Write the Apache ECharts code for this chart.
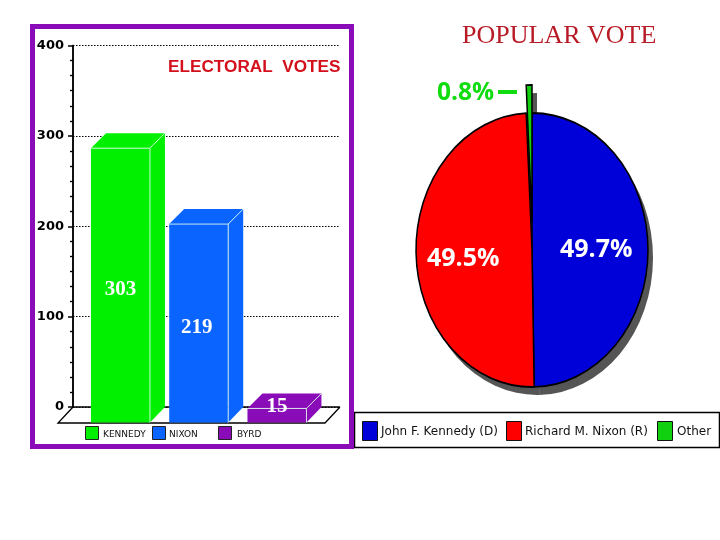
<!DOCTYPE html>
<html><head><meta charset="utf-8">
<style>html,body{margin:0;padding:0;background:#fff}#c{width:720px;height:540px}</style>
<script src="https://cdn.jsdelivr.net/npm/echarts@6/dist/echarts.min.js"></script>
</head><body><div id="c"></div>
<script>
const candidates = ['KENNEDY', 'NIXON', 'BYRD'];
const electoralVotes = [303, 219, 15];
const barColors = ['#00f000', '#0a64ff', '#8a0cb8'];
const yTicks = [0, 100, 200, 300, 400];
const popularNames = ['John F. Kennedy (D)', 'Richard M. Nixon (R)', 'Other'];
const popularVotes = [49.7, 49.5, 0.8];
const pieColors = ['#0000d8', '#ff0000', '#10d010'];

const chart = echarts.init(document.getElementById('c'), null, {renderer: 'canvas'});
const DX = 15, DY = 16, FRONT = 59;
const PIE = {cx: 532, cy: 250, rx: 116, ry: 137};
const total = popularVotes.reduce((a, b) => a + b, 0);
function sliceAngles(i) {
  let s = 0;
  for (let k = 0; k < i; k++) s += popularVotes[k];
  return [-Math.PI / 2 + s / total * 2 * Math.PI, -Math.PI / 2 + (s + popularVotes[i]) / total * 2 * Math.PI];
}
function renderSlice(isShadow) {
  return function (params) {
    const i = params.dataIndex, a = sliceAngles(i);
    const lift = i === 2 ? 28 : 0;
    const off = isShadow ? [5, 8] : [0, 0];
    return {
      type: 'sector',
      x: PIE.cx + off[0], y: PIE.cy - lift + off[1],
      scaleY: PIE.ry / PIE.rx,
      shape: {cx: 0, cy: 0, r0: 0, r: PIE.rx, startAngle: a[0], endAngle: a[1], clockwise: true},
      style: isShadow ? {fill: '#555555'} : {fill: pieColors[i], stroke: '#000', lineWidth: 1.5}
    };
  };
}
function renderBar(params, api) {
  const i = api.value(0), v = api.value(1);
  const p = api.coord([i, v]), base = api.coord([i, 0]);
  const fl = p[0] - FRONT / 2, fr = p[0] + FRONT / 2;
  const top = p[1] + DY - 1, bot = base[1] + DY - .5;
  const c = barColors[params.dataIndex], edge = 'rgba(225,255,235,.85)';
  const ly = bot - top < 40 ? p[1] + 13 : (top + bot) / 2 + 4;
  return {type: 'group', children: [
    {type: 'polygon', shape: {points: [[fl, top], [fl + DX, p[1]], [fr + DX, p[1]], [fr, top]]}, style: {fill: c}},
    {type: 'polygon', shape: {points: [[fr, top], [fr + DX, p[1]], [fr + DX, base[1]], [fr, bot]]}, style: {fill: c}},
    {type: 'rect', shape: {x: fl, y: top, width: FRONT, height: bot - top}, style: {fill: c}},
    {type: 'polyline', shape: {points: [[fl, top], [fr, top], [fr, bot]]}, style: {fill: 'none', stroke: edge, lineWidth: 1}},
    {type: 'line', shape: {x1: fr, y1: top, x2: fr + DX, y2: p[1]}, style: {stroke: edge, lineWidth: 1}},
    {type: 'text', x: p[0] - (params.dataIndex === 1 ? 2 : 0), y: ly, z2: 5, style: {text: String(v), fill: '#fff', font: 'bold 21px "Liberation Serif"', align: 'center', verticalAlign: 'middle'}}
  ]};
}
function renderFloor(params, api) {
  const a = api.coord([api.value(0), 0]), b = api.coord([api.value(1), 0]);
  return {type: 'polyline', shape: {points: [[b[0], b[1]], [a[0], a[1]], [a[0] - DX, a[1] + DY], [b[0] - DX, b[1] + DY], [b[0], b[1]]]}, style: {fill: 'none', stroke: '#000', lineWidth: 1.3}};
}

const graphics = [
  {type: 'rect', shape: {x: 32.5, y: 26.5, width: 319, height: 420}, style: {fill: 'none', stroke: '#8a0cb8', lineWidth: 5}, z: 10},
  {type: 'text', x: 168, y: 67, style: {text: 'ELECTORAL  VOTES', fill: '#d4101c', font: 'bold 17.2px "Liberation Sans"', verticalAlign: 'middle'}, z: 10},
  {type: 'text', x: 462, y: 36, style: {text: 'POPULAR VOTE', fill: '#b81a26', font: '26px "Liberation Serif"', verticalAlign: 'middle'}, z: 10},
  {type: 'text', x: 437, y: 93, style: {text: '0.8%', fill: '#10dc10', font: 'bold 24.5px "Open Sans"', verticalAlign: 'middle'}, z: 10},
  {type: 'rect', shape: {x: 498, y: 90, width: 19, height: 4}, style: {fill: '#10dc10'}, z: 10},
  {type: 'text', x: 427, y: 259, style: {text: popularVotes[1].toFixed(1) + '%', fill: '#fff', font: 'bold 25px "Open Sans"', verticalAlign: 'middle'}, z: 10},
  {type: 'text', x: 560, y: 250, style: {text: popularVotes[0].toFixed(1) + '%', fill: '#fff', font: 'bold 25px "Open Sans"', verticalAlign: 'middle'}, z: 10},
  {type: 'rect', shape: {x: 354.5, y: 412.5, width: 365, height: 35}, style: {fill: '#fff', stroke: '#000', lineWidth: 1.5}, z: 9}
];
[[85, 103], [152, 169], [218, 237]].forEach((p, i) => {
  graphics.push({type: 'rect', shape: {x: p[0] + .5, y: 426.5, width: 13, height: 13}, style: {fill: barColors[i], stroke: '#222', lineWidth: 1}, z: 10});
  graphics.push({type: 'text', x: p[1], y: 435, style: {text: candidates[i], fill: '#111', font: '9px "DejaVu Sans"', verticalAlign: 'middle'}, z: 10});
});
[[362, 381], [506, 525], [657, 677]].forEach((p, i) => {
  graphics.push({type: 'rect', shape: {x: p[0] + .5, y: 421.5, width: 15, height: 19}, style: {fill: pieColors[i], stroke: '#111', lineWidth: 1}, z: 10});
  graphics.push({type: 'text', x: p[1], y: 432, style: {text: popularNames[i], fill: '#111', font: '12px "DejaVu Sans"', verticalAlign: 'middle'}, z: 10});
});

const sharedAxis = {
  type: 'value', min: 0, max: 400, interval: 100, position: 'left',
  axisLine: {show: true, onZero: false, lineStyle: {color: '#000', width: 1.5}}
};
chart.setOption({
  animation: false,
  backgroundColor: '#fff',
  grid: {left: 73, top: 45.5, width: 267, height: 361.5},
  xAxis: {type: 'value', min: -0.6065, max: 2.8055, show: false},
  yAxis: [
    Object.assign({}, sharedAxis, {
      axisTick: {show: true, length: 5, lineStyle: {color: '#000', width: 1.5}},
      minorTick: {show: true, splitNumber: 6, length: 3, lineStyle: {color: '#000', width: 1.2}},
      axisLabel: {margin: 9, color: '#000', fontFamily: 'DejaVu Sans', fontWeight: 'bold', fontSize: 13,
        customValues: yTicks},
      splitLine: {show: true, lineStyle: {color: '#000', type: [1.5, 1.5], width: 1}}
    }),
    Object.assign({}, sharedAxis, {
      axisTick: {show: false},
      minorTick: {show: true, splitNumber: 6, length: 3, inside: true, lineStyle: {color: '#000', width: 1.2}},
      axisLabel: {show: false},
      splitLine: {show: false}
    })
  ],
  series: [
    {type: 'custom', name: 'floor', coordinateSystem: 'cartesian2d', silent: true, z: 2, data: [[-0.6065, 2.8055]], encode: {x: 0, y: 1}, renderItem: renderFloor, clip: false},
    {type: 'custom', name: 'Electoral votes', coordinateSystem: 'cartesian2d', z: 3, clip: false,
      data: electoralVotes.map((v, i) => [i, v]), encode: {x: 0, y: 1}, renderItem: renderBar},
    {type: 'custom', name: 'shadow', coordinateSystem: 'none', silent: true, z: 3, data: popularVotes, renderItem: renderSlice(true)},
    {type: 'custom', name: 'Popular vote', coordinateSystem: 'none', z: 4, data: popularVotes, renderItem: renderSlice(false)}
  ],
  graphic: {elements: graphics}
});
</script></body></html>
